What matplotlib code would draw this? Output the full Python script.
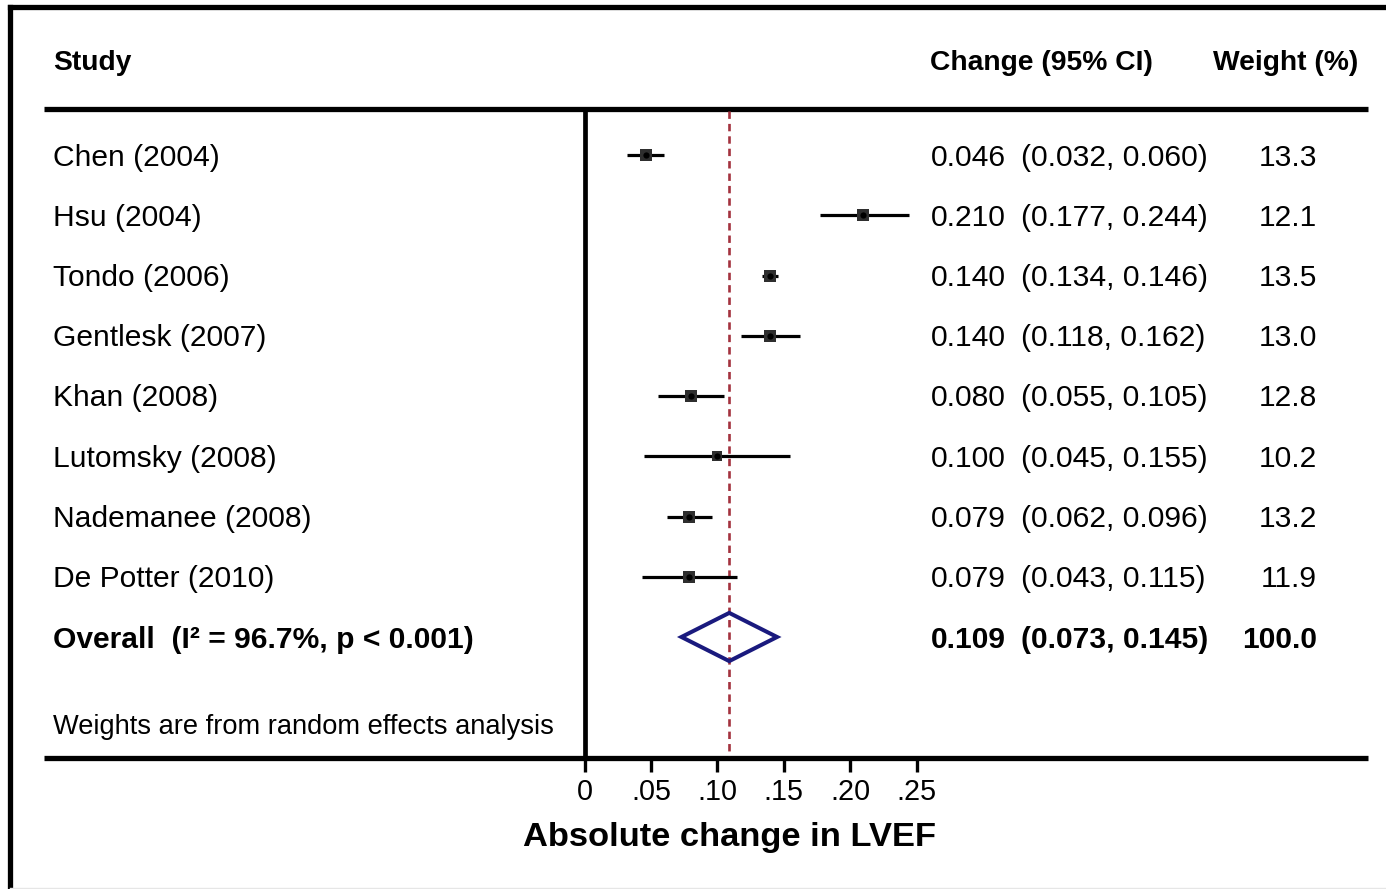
import matplotlib
matplotlib.use("Agg")
import matplotlib.pyplot as plt
import matplotlib.transforms as mtransforms
from matplotlib.patches import Polygon

# ---------------- data ----------------
studies = ["Chen (2004)", "Hsu (2004)", "Tondo (2006)", "Gentlesk (2007)",
           "Khan (2008)", "Lutomsky (2008)", "Nademanee (2008)", "De Potter (2010)"]
effect = [0.046, 0.210, 0.140, 0.140, 0.080, 0.100, 0.079, 0.079]
ci_low = [0.032, 0.177, 0.134, 0.118, 0.055, 0.045, 0.062, 0.043]
ci_high = [0.060, 0.244, 0.146, 0.162, 0.105, 0.155, 0.096, 0.115]
weights = [13.3, 12.1, 13.5, 13.0, 12.8, 10.2, 13.2, 11.9]
overall_effect = 0.109
overall_low = 0.073
overall_high = 0.145
overall_weight = 100.0
overall_label = "Overall  (I\u00b2 = 96.7%, p < 0.001)"
tick_values = [0, 0.05, 0.10, 0.15, 0.20, 0.25]
tick_labels = ["0", ".05", ".10", ".15", ".20", ".25"]
header_study = "Study"
header_change = "Change (95% CI)"
header_weight = "Weight (%)"
footnote = "Weights are from random effects analysis"
xlabel = "Absolute change in LVEF"

# ---------------- layout ----------------
W, H = 1386, 889
plt.rcParams["font.family"] = ["Liberation Sans", "DejaVu Sans"]
fig = plt.figure(figsize=(W / 100, H / 100), dpi=100)
ax = fig.add_axes([0, 0, 1, 1])
x_zero_px, px_per_unit = 584.5, 1328.0
row0_px, row_step = 155.0, 60.25
ax.set_xlim(-x_zero_px / px_per_unit, (W - x_zero_px) / px_per_unit)
ax.set_ylim((H - row0_px) / row_step, -row0_px / row_step)
ax.axis("off")

# pixel transform (origin top-left)
tpx = mtransforms.Affine2D().scale(1 / W, -1 / H).translate(0, 1) + fig.transFigure
t_row = mtransforms.blended_transform_factory(tpx, ax.transData)   # x pixel, y row
t_xval = mtransforms.blended_transform_factory(ax.transData, tpx)  # x data, y pixel
shift = mtransforms.ScaledTranslation(0, -2.5 / 100, fig.dpi_scale_trans)
tpx_t = tpx + shift
t_row_t = t_row + shift
t_xval_t = t_xval + shift

black = "#000000"
FS_ROW = 21.6
FS_HEAD = 20.3
FS_FOOT = 19.6
FS_TICK = 20.7
FS_XLAB = 24.8

# outer frame (partially cropped)
ax.plot([10, 10], [7, H], color=black, lw=3.8, transform=tpx, solid_capstyle="projecting")
ax.plot([10, W], [7, 7], color=black, lw=3.8, transform=tpx, solid_capstyle="projecting")
ax.plot([10, W], [888, 888], color="#e6e6e6", lw=1.0, transform=tpx)

# horizontal rules
ax.plot([44, 1368], [109, 109], color=black, lw=3.8, transform=tpx, solid_capstyle="butt")
ax.plot([44, 1368], [758, 758], color=black, lw=3.8, transform=tpx, solid_capstyle="butt")

# headers
ax.text(53, 60, header_study, transform=tpx_t, fontsize=FS_HEAD, fontweight="bold",
        ha="left", va="center")
ax.text(930, 60, header_change, transform=tpx_t, fontsize=FS_HEAD, fontweight="bold",
        ha="left", va="center")
ax.text(1358, 60, header_weight, transform=tpx_t, fontsize=FS_HEAD, fontweight="bold",
        ha="right", va="center")

# vertical zero line and overall-effect line
ax.plot([0, 0], [109, 758], color=black, lw=3.4, transform=t_xval, solid_capstyle="butt")
ax.plot([overall_effect, overall_effect], [111, 756], color="#a3323e", lw=1.9,
        dashes=(2.8, 1.9), transform=t_xval)

# studies
for i, (name, e, lo, hi, w) in enumerate(zip(studies, effect, ci_low, ci_high, weights)):
    ax.plot([lo, hi], [i, i], color=black, lw=2.3, solid_capstyle="butt", zorder=3)
    side_px = 3.4 * (w ** 0.5)
    ax.plot([e], [i], marker="s", markersize=side_px * 0.72, color="#2e2e2e",
            markeredgewidth=0, zorder=4)
    ax.plot([e], [i], marker="o", markersize=4.5, color=black, markeredgewidth=0, zorder=5)
    ax.text(53, i, name, transform=t_row_t, fontsize=FS_ROW, ha="left", va="center")
    ax.text(931, i, f"{e:.3f}", transform=t_row_t, fontsize=FS_ROW, ha="left", va="center")
    ax.text(1021, i, f"({lo:.3f}, {hi:.3f})", transform=t_row_t, fontsize=FS_ROW,
            ha="left", va="center")
    ax.text(1317, i, f"{w:.1f}", transform=t_row_t, fontsize=FS_ROW, ha="right", va="center")

# overall
yo = len(studies)
half_h = 0.40
diamond = Polygon([[overall_low, yo], [overall_effect, yo - half_h],
                   [overall_high, yo], [overall_effect, yo + half_h]],
                  closed=True, fill=False, edgecolor="#1a1a7e", lw=2.9, zorder=4,
                  joinstyle="miter")
ax.add_patch(diamond)
ax.text(53, yo, overall_label, transform=t_row_t, fontsize=FS_ROW, fontweight="bold",
        ha="left", va="center")
ax.text(931, yo, f"{overall_effect:.3f}", transform=t_row_t, fontsize=FS_ROW,
        fontweight="bold", ha="left", va="center")
ax.text(1021, yo, f"({overall_low:.3f}, {overall_high:.3f})", transform=t_row_t,
        fontsize=FS_ROW, fontweight="bold", ha="left", va="center")
ax.text(1317, yo, f"{overall_weight:.1f}", transform=t_row_t, fontsize=FS_ROW,
        fontweight="bold", ha="right", va="center")

# footnote
ax.text(53, 724, footnote, transform=tpx_t, fontsize=FS_FOOT, ha="left", va="center")

# x ticks
for tv, tl in zip(tick_values, tick_labels):
    ax.plot([tv, tv], [758, 772], color=black, lw=2.4, transform=t_xval,
            solid_capstyle="butt")
    ax.text(tv, 789, tl, transform=t_xval_t, fontsize=FS_TICK, ha="center", va="center")

ax.text(0.1095, 835, xlabel, transform=t_xval_t, fontsize=FS_XLAB, fontweight="bold",
        ha="center", va="center")

fig.savefig("out.png", dpi=100)
